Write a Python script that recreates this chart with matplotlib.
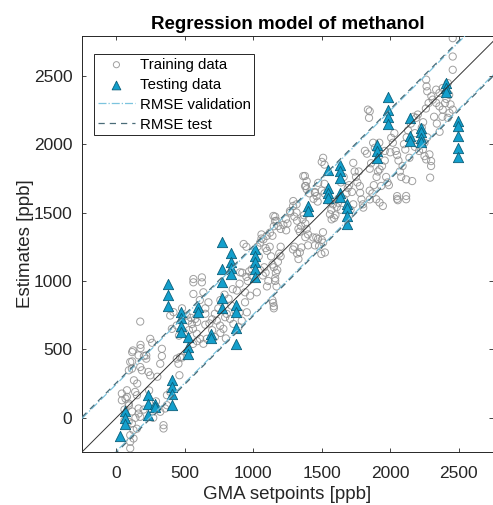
import numpy as np
import matplotlib
matplotlib.use('Agg')
import matplotlib.pyplot as plt

plt.rcParams['font.family'] = ['Liberation Sans', 'DejaVu Sans']

# testing data: setpoints and the estimates at each setpoint
test_setpoints = [30, 63, 230, 282, 378, 408, 474, 527, 595, 692, 770, 836, 875,
                  1013, 1402, 1548, 1633, 1685, 1900, 1980, 2143, 2228, 2405, 2495]
test_estimates = [
    [-135],
    [48, 0, -49],
    [170, 100, 20],
    [100, 80],
    [975, 895, 820],
    [274, 226, 177, 97],
    [776, 728, 674, 626],
    [589, 517, 468],
    [808, 776],
    [615, 580],
    [1288, 1087, 990, 876, 801],
    [1201, 1140, 1092, 1050],
    [824, 776, 655, 541],
    [1232, 1184, 1135, 1087, 1030],
    [1547, 1511],
    [1814, 1681, 1640, 1608],
    [1850, 1800, 1755, 1640, 1610],
    [1560, 1530, 1474, 1414],
    [1990, 1950, 1900],
    [2343, 2252, 2198, 2150],
    [2190, 2057, 2020],
    [2118, 2086, 2045, 2013],
    [2445, 2410, 2380],
    [2166, 2130, 2062, 1973, 1904],
]

# training data (setpoint, estimate)
train_x = [
    41, 78, 41, 78, 138, 151, 90, 163, 163, 175,
    90, 114, 126, 102, 126, 102, 102, 297, 321, 357,
    370, 345, 345, 370, 394, 122, 163, 219, 219, 333,
    333, 102, 114, 175, 187, 235, 248, 321, 175, 248,
    262, 177, 177, 116, 116, 202, 92, 129, 153, 68,
    92, 116, 406, 394, 418, 442, 454, 442, 458, 466,
    461, 60, 140, 60, 300, 290, 150, 240, 270, 200,
    515, 527, 552, 576, 600, 563, 563, 625, 625, 563,
    636, 673, 588, 612, 636, 661, 734, 758, 782, 795,
    807, 831, 855, 892, 916, 940, 953, 977, 1026, 989,
    904, 940, 480, 500, 530, 545, 560, 650, 680, 700,
    610, 650, 480, 520, 560, 590, 720, 745, 760, 790,
    820, 850, 880, 900, 920, 950, 960, 970, 990, 930,
    950, 700, 760, 800, 870, 900, 840, 720, 650, 590,
    1040, 1030, 1050, 1060, 1060, 1090, 1100, 1120, 1130, 1140,
    1150, 1165, 1175, 1180, 1190, 1200, 1200, 1140, 1145, 1150,
    1150, 1160, 1160, 1170, 1100, 1110, 1090, 1080, 1050, 1070,
    1140, 1150, 1160, 1170, 1200, 1220, 1240, 1250, 1239, 1270,
    1291, 1316, 1300, 1320, 1330, 1340, 1350, 1360, 1370, 1380,
    1390, 1400, 1290, 1300, 1320, 1330, 1340, 1352, 1380, 1400,
    1437, 1473, 1497, 1509, 1450, 1500, 1510, 1377, 1384, 1390,
    1410, 1440, 1450, 1470, 1500, 1520, 1520, 1500, 1510, 1520,
    1365, 1390, 1378, 1450, 1462, 1474, 1292, 1316, 1268, 1147,
    1159, 1183, 1122, 1098, 1074, 1560, 1572, 1523, 1480, 1460,
    1582, 1619, 1560, 1570, 1590, 1600, 1610, 1620, 1640, 1660,
    1700, 1720, 1730, 1740, 1750, 1760, 1778, 1780, 1790, 1800,
    1803, 1815, 1830, 1700, 1710, 1730, 1680, 1690, 1660, 1640,
    1837, 1850, 1845, 1875, 1888, 1922, 1934, 1898, 1922, 1946,
    1851, 1870, 1880, 1900, 1910, 1940, 1960, 1970, 1980, 1990,
    2007, 2019, 2030, 2040, 2050, 2060, 2070, 2080, 2090, 2100,
    2050, 2050, 2055, 1850, 1860, 1770, 1920, 1960, 2000, 1850,
    2116, 2116, 2116, 2160, 2189, 2201, 2238, 2250, 2262, 2286,
    2298, 2298, 2291, 2262, 2265, 2270, 2310, 2335, 2359, 2383,
    2335, 2359, 2383, 2420, 2456, 2456, 2456, 2432, 2420, 2456,
    2130, 2150, 2170, 2180, 2200, 2210, 2230, 2240, 2260, 2280,
    2300, 2320, 2340, 2360, 2380, 2400, 2410, 2430, 2440, 2270,
    2250, 2180, 2140, 2120, 2110,
]
train_y = [
    177, 201, 128, 153, 189, 165, 104, 68, 31, 7,
    -29, -41, -90, -127, -151, -175, -223, 68, 44, 68,
    92, -54, -78, 165, 189, 492, 456, 456, 432, 504,
    451, 408, 359, 371, 347, 335, 310, 395, 703, 577,
    548, 533, 509, 480, 412, 451, 347, 274, 250, 140,
    90, 46, 650, 747, 772, 432, 395, 675, 600, 444,
    311, 60, 0, -20, 300, 120, -80, 200, 0, 60,
    747, 710, 686, 722, 759, 1014, 990, 1026, 990, 905,
    917, 844, 614, 577, 541, 577, 710, 674, 650, 735,
    759, 723, 686, 662, 710, 844, 771, 892, 917, 1087,
    1063, 917, 800, 620, 640, 730, 650, 760, 690, 720,
    860, 800, 440, 480, 540, 560, 760, 800, 860, 900,
    870, 940, 930, 980, 1060, 1030, 1000, 1070, 1040, 1270,
    1250, 640, 620, 580, 780, 770, 820, 590, 680, 700,
    1180, 1250, 1280, 1340, 1310, 1240, 1220, 1250, 1180, 1120,
    1100, 1060, 1080, 1140, 1200, 1250, 1180, 860, 840, 815,
    800, 1000, 1020, 960, 960, 1000, 1060, 1100, 1080, 1040,
    1330, 1400, 1470, 1440, 1380, 1410, 1370, 1420, 1451, 1500,
    1548, 1500, 1470, 1440, 1380, 1360, 1400, 1450, 1480, 1420,
    1380, 1340, 1230, 1250, 1200, 1160, 1209, 1245, 1320, 1260,
    1318, 1306, 1197, 1356, 1260, 1300, 1280, 1767, 1694, 1670,
    1640, 1600, 1650, 1580, 1660, 1640, 1710, 1870, 1900, 1850,
    1766, 1729, 1693, 1644, 1620, 1717, 1584, 1560, 1511, 1475,
    1438, 1402, 1353, 1329, 1304, 1487, 1450, 1208, 1256, 1317,
    1560, 1572, 1580, 1520, 1460, 1480, 1540, 1600, 1720, 1760,
    1700, 1650, 1863, 1800, 1760, 1720, 1693, 1644, 1596, 1560,
    1536, 1951, 1930, 1480, 1520, 1560, 1640, 1680, 1600, 1520,
    2252, 2240, 2192, 2010, 1973, 1815, 1694, 1597, 1573, 1548,
    1596, 1640, 1700, 1760, 1800, 1840, 1880, 1760, 1720, 1700,
    2046, 2010, 2080, 1950, 1920, 1880, 1800, 1760, 1840, 2000,
    1620, 1600, 1590, 1820, 1860, 1800, 2010, 1950, 1940, 1660,
    1742, 1597, 1621, 1730, 2192, 2216, 1961, 1912, 1888, 1925,
    1876, 1840, 1755, 2471, 2422, 2386, 2325, 2301, 2276, 2252,
    2398, 2374, 2410, 2446, 2774, 2640, 2543, 2228, 2192, 2252,
    2100, 2150, 2200, 2080, 2000, 1950, 2120, 2160, 2260, 2300,
    2350, 2200, 2150, 2090, 2200, 2300, 2330, 2360, 2290, 2050,
    2010, 1980, 1900, 2050, 1960,
]

rmse_validation = 245
rmse_test = 255

test_x = [x for x, ys in zip(test_setpoints, test_estimates) for _ in ys]
test_y = [y for ys in test_estimates for y in ys]

fig = plt.figure(figsize=(4.93, 5.05), dpi=100)
ax = fig.add_axes([82 / 493, 1 - 452 / 505, 411 / 493, 416 / 505])

line = np.array([-250, 2800])
ax.scatter(train_x, train_y, s=27, facecolors='none', edgecolors='#8f8f8f',
           linewidths=0.7, alpha=0.85, label='Training data', zorder=2)
ax.scatter(test_x, test_y, s=55, marker='^', facecolors='#139fcc',
           edgecolors='#0b5f7a', linewidths=0.6, label='Testing data', zorder=3)
ax.plot(line, line, color='#333333', lw=0.7, zorder=4)
ax.plot(line, line + rmse_validation, color='#7cc4de', lw=0.9, ls='-.',
        label='RMSE validation', zorder=4)
ax.plot(line, line - rmse_validation, color='#7cc4de', lw=0.9, ls='-.', zorder=4)
ax.plot(line, line + rmse_test, color='#4a6c78', lw=0.9, ls=(0, (5, 4)),
        label='RMSE test', zorder=4)
ax.plot(line, line - rmse_test, color='#4a6c78', lw=0.9, ls=(0, (5, 4)), zorder=4)

ax.set_xlim(-250, 2750)
ax.set_ylim(-250, 2790)
ax.set_xticks([0, 500, 1000, 1500, 2000, 2500])
ax.set_yticks([0, 500, 1000, 1500, 2000, 2500])
ax.tick_params(direction='in', length=3, width=0.6, top=True, right=True,
               labelsize=12.5, colors='#262626', pad=7)
ax.tick_params(axis='x', pad=10)
for s in ax.spines.values():
    s.set_linewidth(0.7)
    s.set_color('#262626')

ax.set_title('Regression model of methanol', fontsize=13.5, fontweight='bold', pad=5)
ax.set_xlabel('GMA setpoints [ppb]', fontsize=13.5, color='#262626', labelpad=4)
ax.set_ylabel('Estimates [ppb]', fontsize=13.5, color='#262626', labelpad=0)

leg = ax.legend(loc='upper left', bbox_to_anchor=(0.029, 0.957), borderaxespad=0,
                fontsize=10.8, fancybox=False, edgecolor='#262626', framealpha=1,
                handlelength=2.5, handletextpad=0.3, labelspacing=0.4,
                borderpad=0.25, markerscale=0.85)
leg.get_frame().set_linewidth(0.7)

fig.savefig('out.png', dpi=100)
